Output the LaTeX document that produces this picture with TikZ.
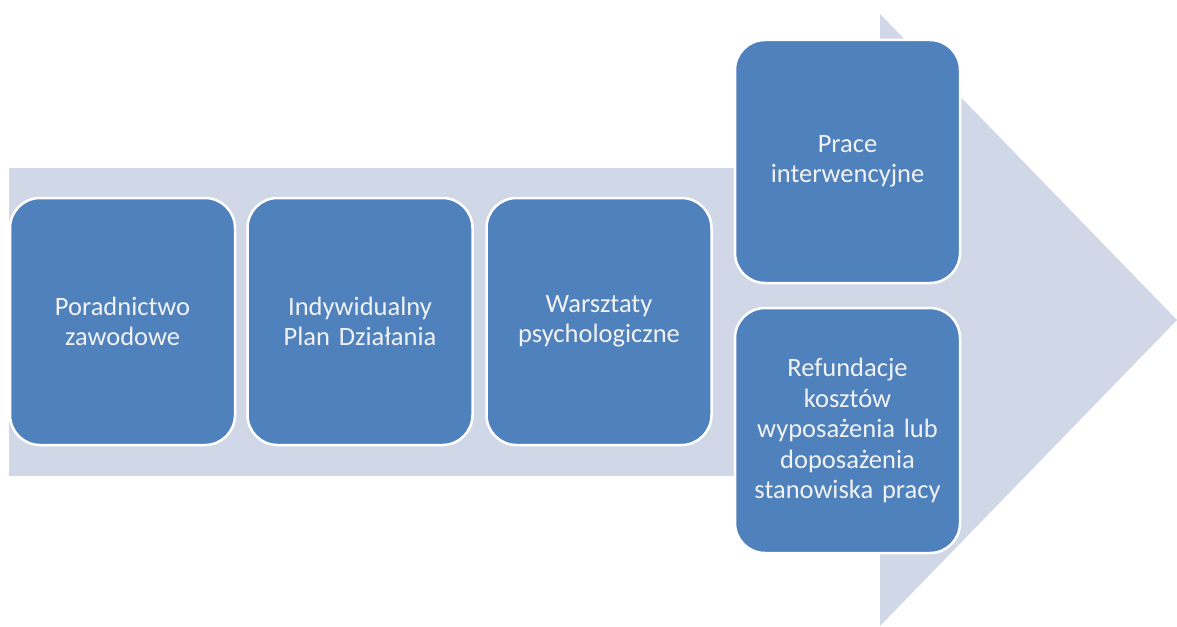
\documentclass[tikz,border=0pt]{standalone}
\usepackage{fontspec}
\setmainfont{Carlito}
\definecolor{boxblue}{RGB}{79,129,189}
\definecolor{arrowbg}{RGB}{208,216,232}
\definecolor{txt}{RGB}{242,242,242}
\tikzset{
  stagebox/.style={rectangle, rounded corners=30pt, fill=boxblue, draw=white,
    line width=2.5pt, minimum width=225pt, text width=218pt, align=center,
    text=txt, font=\fontsize{26.5}{30.5}\selectfont, inner sep=0pt}
}
\begin{document}
\begin{tikzpicture}[x=1pt,y=-1pt]
\useasboundingbox (0,0) rectangle (1177,626);
\fill[arrowbg] (9,168) -- (880,168) -- (880,14) -- (1177,320) -- (880,626) -- (880,476) -- (9,476) -- cycle;
\node[stagebox, minimum height=247pt] (b1) at (122.5,321.5) {Poradnictwo\\zawodowe};
\node[stagebox, minimum height=247pt] (b2) at (360,321.5) {Indywidualny\\Plan Działania};
\node[stagebox, minimum height=247pt] (b3) at (599,321.5) {Warsztaty\\psychologiczne};
\node[stagebox, minimum height=243pt] (b4) at (847.5,161.5) {Prace\\interwencyjne};
\node[stagebox, minimum height=245pt] (b5) at (847.5,430.5) {Refundacje\\kosztów\\wyposażenia lub\\doposażenia\\stanowiska pracy};
\end{tikzpicture}
\end{document}
